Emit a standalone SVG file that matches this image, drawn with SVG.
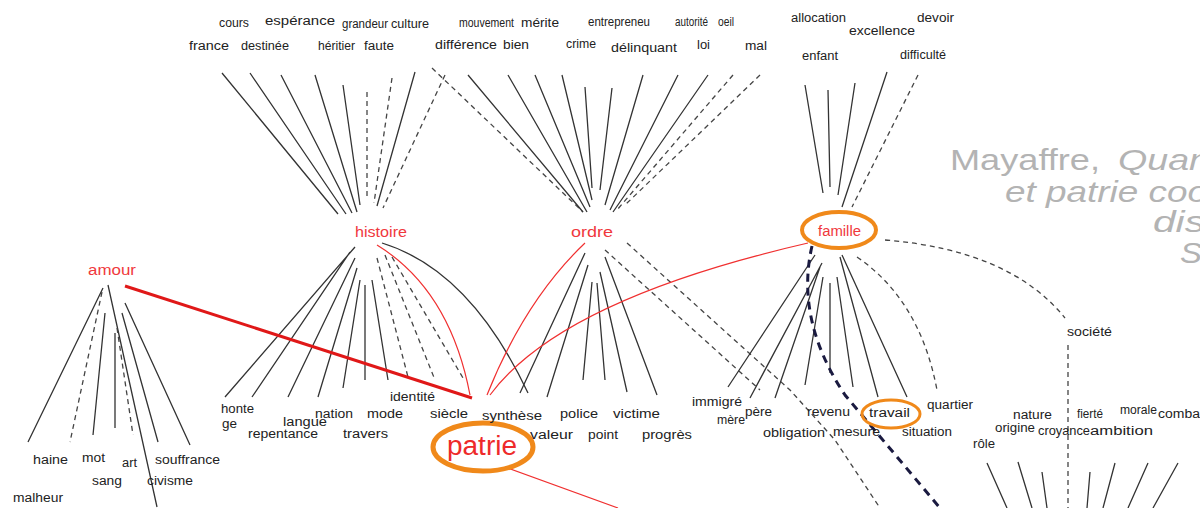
<svg xmlns="http://www.w3.org/2000/svg" width="1200" height="508" viewBox="0 0 1200 508">
<style>
text{font-family:"Liberation Sans",Arial,sans-serif}
.w{font-size:12.5px;fill:#222}
.k{font-size:14px;fill:#f0383c}
.t{font-size:30px;fill:#b3b3b3}
.i{font-style:italic}
.s{stroke:#333;stroke-width:1.3;fill:none}
.d{stroke:#444;stroke-width:1.3;fill:none;stroke-dasharray:5 4}
.r{stroke:#f03030;stroke-width:1.2;fill:none}
.R{stroke:#e01818;stroke-width:3;fill:none}
.n{stroke:#1a1a40;stroke-width:3;fill:none;stroke-dasharray:8 6}
.o{fill:none;stroke:#f0891a}
</style>
<rect width="1200" height="508" fill="#fff"/>
<g id="connectors">
<path class="s" d="M222 73L338 214M250 73L346 214M281 75L352 213M315 75L357 212M343 85L360 205M415 72L377 206"/>
<path class="d" d="M367 92L367 198M392 78L374 203M445 75L383 208M432 68L583 212"/>
<path class="s" d="M468 75L583 212M508 75L587 212M535 75L590 207M562 75L592 200M585 87L592 188M612 88L600 190M643 75L605 205M678 75L610 210M708 75L613 212"/>
<path class="d" d="M733 75L617 210M760 75L624 206"/>
<path class="s" d="M805 85L823 193M828 90L830 187M855 83L838 195M887 72L842 207"/>
<path class="d" d="M918 75L852 207"/>
<path class="s" d="M355 247L225 397M350 252L252 397M355 258L288 397M357 268L318 397M360 280L343 388M365 285L365 380M372 280L388 380M382 243Q470 270 528 393"/>
<path class="d" d="M377 258L408 377M385 255L435 380M392 257L463 378"/>
<path class="s" d="M585 253L520 393M588 265L547 397M592 282L583 380M597 283L605 380M600 272L627 392M605 257L657 395"/>
<path class="d" d="M627 243L790 390L835 440L880 508M605 250L760 390"/>
<path class="s" d="M815 255L728 387M822 263L750 398M820 267L775 398M823 277L805 385M830 283L830 373M837 277L853 387M840 257L878 397M842 255L907 397"/>
<path class="d" d="M857 257Q920 300 937 390M885 240Q1010 250 1065 318M1068 345L1068 508"/>
<path class="n" d="M812 246Q795 320 845 395L940 508"/>
<path class="s" d="M103 288L28 442M105 313L93 435M115 333L115 428M122 313L158 442M125 303L190 445M108 285L157 507"/>
<path class="d" d="M102 292L70 442M117 328L133 435"/>
<path class="s" d="M987 463L1007 508M1018 462L1032 508M1042 472L1047 508M1090 472L1087 508M1115 463L1103 508M1148 463L1128 508M1178 463L1153 508"/>
<path class="R" d="M125 286L472 398"/>
<path class="r" d="M377 245Q450 290 470 395M585 243Q525 300 487 395M808 243Q560 300 490 395M505 467L618 508"/>
</g>
<g id="top-histoire">
<text class="w" x="219" y="27" textLength="30" lengthAdjust="spacingAndGlyphs">cours</text>
<text class="w" x="265" y="25" textLength="70" lengthAdjust="spacingAndGlyphs">espérance</text>
<text class="w" x="342" y="28" textLength="46" lengthAdjust="spacingAndGlyphs">grandeur</text>
<text class="w" x="391" y="28" textLength="38" lengthAdjust="spacingAndGlyphs">culture</text>
<text class="w" x="189" y="50" textLength="40" lengthAdjust="spacingAndGlyphs">france</text>
<text class="w" x="241" y="50" textLength="48" lengthAdjust="spacingAndGlyphs">destinée</text>
<text class="w" x="318" y="50" textLength="37" lengthAdjust="spacingAndGlyphs">héritier</text>
<text class="w" x="364" y="50" textLength="30" lengthAdjust="spacingAndGlyphs">faute</text>
</g>
<g id="top-ordre">
<text class="w" x="459" y="27" textLength="55" lengthAdjust="spacingAndGlyphs">mouvement</text>
<text class="w" x="521" y="27" textLength="38" lengthAdjust="spacingAndGlyphs">mérite</text>
<text class="w" x="588" y="26" textLength="62" lengthAdjust="spacingAndGlyphs">entrepreneu</text>
<text class="w" x="675" y="26" textLength="33" lengthAdjust="spacingAndGlyphs">autorité</text>
<text class="w" x="718" y="26" textLength="16" lengthAdjust="spacingAndGlyphs">oeil</text>
<text class="w" x="435" y="49" textLength="62" lengthAdjust="spacingAndGlyphs">différence</text>
<text class="w" x="503" y="49" textLength="26" lengthAdjust="spacingAndGlyphs">bien</text>
<text class="w" x="566" y="48" textLength="30" lengthAdjust="spacingAndGlyphs">crime</text>
<text class="w" x="611" y="52" textLength="66" lengthAdjust="spacingAndGlyphs">délinquant</text>
<text class="w" x="697" y="49" textLength="13" lengthAdjust="spacingAndGlyphs">loi</text>
<text class="w" x="745" y="50" textLength="22" lengthAdjust="spacingAndGlyphs">mal</text>
</g>
<g id="top-famille">
<text class="w" x="791" y="22" textLength="55" lengthAdjust="spacingAndGlyphs">allocation</text>
<text class="w" x="917" y="22" textLength="37" lengthAdjust="spacingAndGlyphs">devoir</text>
<text class="w" x="849" y="35" textLength="66" lengthAdjust="spacingAndGlyphs">excellence</text>
<text class="w" x="802" y="60" textLength="36" lengthAdjust="spacingAndGlyphs">enfant</text>
<text class="w" x="900" y="59" textLength="46" lengthAdjust="spacingAndGlyphs">difficulté</text>
</g>
<g id="histoire"><text class="k" x="355" y="237" textLength="52" lengthAdjust="spacingAndGlyphs">histoire</text></g>
<g id="ordre"><text class="k" x="571" y="237" textLength="42" lengthAdjust="spacingAndGlyphs">ordre</text></g>
<g id="famille"><ellipse class="o" cx="839" cy="230" rx="37" ry="18" stroke-width="4"/><text class="k" x="818" y="236" textLength="43" lengthAdjust="spacingAndGlyphs">famille</text></g>
<g id="amour"><text class="k" x="88" y="275" textLength="48" lengthAdjust="spacingAndGlyphs">amour</text></g>
<g id="patrie"><ellipse class="o" cx="483" cy="447" rx="50" ry="24" stroke-width="5"/><text x="447" y="455" font-size="27" fill="#ee2a2a" textLength="70" lengthAdjust="spacingAndGlyphs">patrie</text></g>
<g id="bottom-histoire">
<text class="w" x="221" y="413" textLength="33" lengthAdjust="spacingAndGlyphs">honte</text>
<text class="w" x="222" y="428" font-size="11" textLength="15" lengthAdjust="spacingAndGlyphs">ge</text>
<text class="w" x="248" y="438" textLength="70" lengthAdjust="spacingAndGlyphs">repentance</text>
<text class="w" x="283" y="426" textLength="44" lengthAdjust="spacingAndGlyphs">langue</text>
<text class="w" x="315" y="418" textLength="38" lengthAdjust="spacingAndGlyphs">nation</text>
<text class="w" x="367" y="418" textLength="36" lengthAdjust="spacingAndGlyphs">mode</text>
<text class="w" x="343" y="438" textLength="45" lengthAdjust="spacingAndGlyphs">travers</text>
<text class="w" x="390" y="401" textLength="45" lengthAdjust="spacingAndGlyphs">identité</text>
<text class="w" x="430" y="418" textLength="38" lengthAdjust="spacingAndGlyphs">siècle</text>
</g>
<g id="bottom-ordre">
<text class="w" x="482" y="420" textLength="60" lengthAdjust="spacingAndGlyphs">synthèse</text>
<text class="w" x="560" y="418" textLength="38" lengthAdjust="spacingAndGlyphs">police</text>
<text class="w" x="613" y="418" textLength="47" lengthAdjust="spacingAndGlyphs">victime</text>
<text class="w" x="530" y="439" textLength="43" lengthAdjust="spacingAndGlyphs">valeur</text>
<text class="w" x="588" y="439" textLength="30" lengthAdjust="spacingAndGlyphs">point</text>
<text class="w" x="642" y="439" textLength="50" lengthAdjust="spacingAndGlyphs">progrès</text>
</g>
<g id="bottom-famille">
<text class="w" x="692" y="406" textLength="50" lengthAdjust="spacingAndGlyphs">immigré</text>
<text class="w" x="745" y="416" textLength="27" lengthAdjust="spacingAndGlyphs">père</text>
<text class="w" x="717" y="424" textLength="28" lengthAdjust="spacingAndGlyphs">mère</text>
<text class="w" x="807" y="416" textLength="43" lengthAdjust="spacingAndGlyphs">revenu</text>
<text class="w" x="927" y="409" textLength="46" lengthAdjust="spacingAndGlyphs">quartier</text>
<text class="w" x="763" y="437" textLength="62" lengthAdjust="spacingAndGlyphs">obligation</text>
<text class="w" x="833" y="436" textLength="47" lengthAdjust="spacingAndGlyphs">mesure</text>
<text class="w" x="902" y="436" textLength="50" lengthAdjust="spacingAndGlyphs">situation</text>
</g>
<g id="travail"><ellipse class="o" cx="891" cy="414" rx="29" ry="14" stroke-width="3"/><text class="w" x="869" y="417" textLength="41" lengthAdjust="spacingAndGlyphs">travail</text></g>
<g id="societe">
<text class="w" x="1067" y="336" textLength="45" lengthAdjust="spacingAndGlyphs">société</text>
<text class="w" x="1013" y="419" textLength="39" lengthAdjust="spacingAndGlyphs">nature</text>
<text class="w" x="995" y="432" textLength="40" lengthAdjust="spacingAndGlyphs">origine</text>
<text class="w" x="1038" y="435" textLength="52" lengthAdjust="spacingAndGlyphs">croyance</text>
<text class="w" x="1090" y="435" textLength="63" lengthAdjust="spacingAndGlyphs">ambition</text>
<text class="w" x="1077" y="418" textLength="26" lengthAdjust="spacingAndGlyphs">fierté</text>
<text class="w" x="1120" y="414" textLength="37" lengthAdjust="spacingAndGlyphs">morale</text>
<text class="w" x="1158" y="418" textLength="42" lengthAdjust="spacingAndGlyphs">comba</text>
<text class="w" x="973" y="448" textLength="22" lengthAdjust="spacingAndGlyphs">rôle</text>
</g>
<g id="bottom-amour">
<text class="w" x="33" y="464" textLength="35" lengthAdjust="spacingAndGlyphs">haine</text>
<text class="w" x="82" y="462" textLength="23" lengthAdjust="spacingAndGlyphs">mot</text>
<text class="w" x="122" y="467" textLength="15" lengthAdjust="spacingAndGlyphs">art</text>
<text class="w" x="155" y="464" textLength="65" lengthAdjust="spacingAndGlyphs">souffrance</text>
<text class="w" x="92" y="485" textLength="30" lengthAdjust="spacingAndGlyphs">sang</text>
<text class="w" x="147" y="485" textLength="46" lengthAdjust="spacingAndGlyphs">civisme</text>
<text class="w" x="13" y="502" textLength="50" lengthAdjust="spacingAndGlyphs">malheur</text>
</g>
<g id="caption">
<text class="t" x="950" y="170" textLength="150" lengthAdjust="spacingAndGlyphs">Mayaffre,</text>
<text class="t i" x="1118" y="170" textLength="92" lengthAdjust="spacingAndGlyphs">Quan</text>
<text class="t i" x="1005" y="202" textLength="203" lengthAdjust="spacingAndGlyphs">et patrie coo</text>
<text class="t i" x="1153" y="232" textLength="52" lengthAdjust="spacingAndGlyphs">dis</text>
<text class="t i" x="1180" y="263" textLength="22" lengthAdjust="spacingAndGlyphs">S</text>
</g>
</svg>
